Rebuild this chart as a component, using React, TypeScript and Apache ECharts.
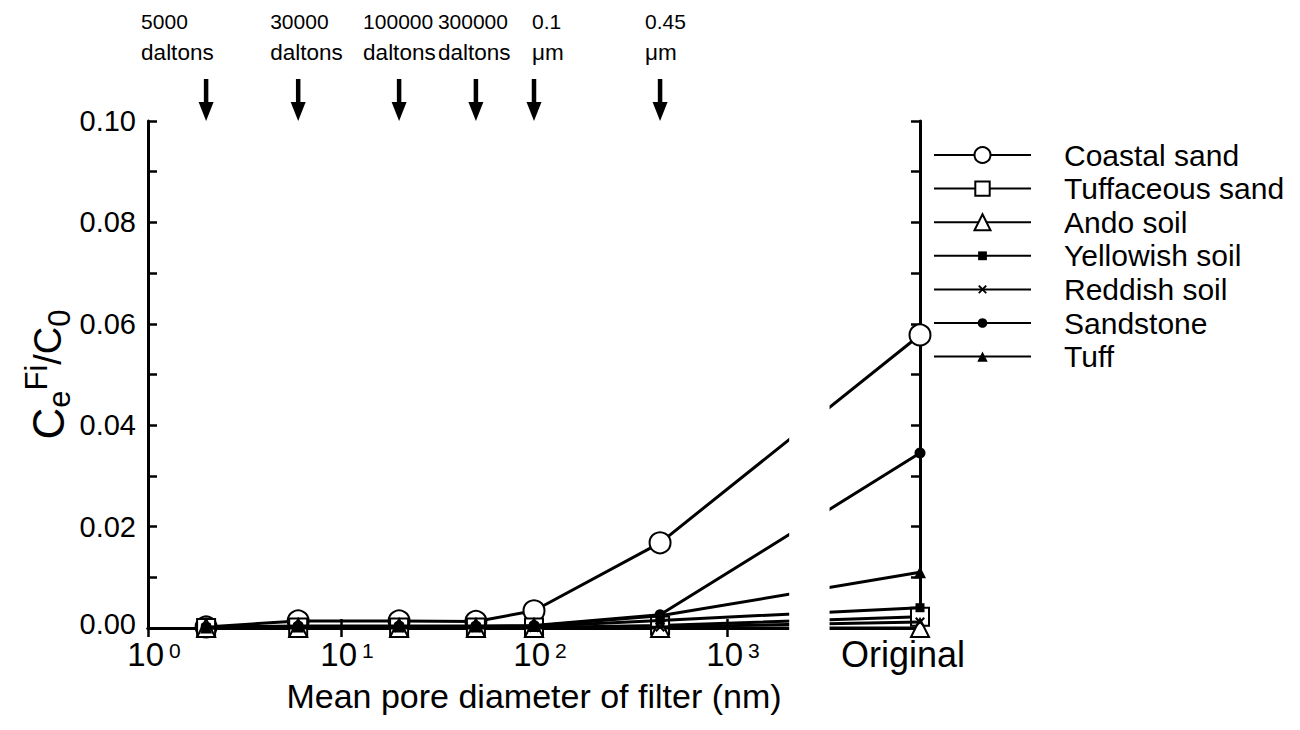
import React, { useEffect, useRef } from 'react';
import * as echarts from 'echarts';

// ---------- data ----------
// pore diameters (nm); the last slot (10^4) is the "Original" (unfiltered) sample
const poreDiameters = [2, 6, 20, 50, 100, 450, 10000];
const seriesNames = ['Coastal sand', 'Tuffaceous sand', 'Ando soil', 'Yellowish soil', 'Reddish soil', 'Sandstone', 'Tuff'];
const coastalSand = [0.0002, 0.0014, 0.0014, 0.0013, 0.0034, 0.0168, 0.0578];
const tuffaceousSand = [0.0, 0.0001, 0.0001, 0.0001, 0.0001, 0.0005, 0.0022];
const andoSoil = [0.0, 0.0, 0.0, 0.0, 0.0, 0.0, 0.0];
const yellowishSoil = [0.0001, 0.0002, 0.0002, 0.0002, 0.0003, 0.0015, 0.004];
const reddishSoil = [0.0, 0.0001, 0.0001, 0.0001, 0.0001, 0.0002, 0.0012];
const sandstone = [0.0002, 0.0004, 0.0004, 0.0004, 0.0005, 0.0026, 0.0345];
const tuff = [0.0001, 0.0003, 0.0003, 0.0003, 0.0004, 0.0024, 0.011];
const seriesValues = [coastalSand, tuffaceousSand, andoSoil, yellowishSoil, reddishSoil, sandstone, tuff];

const xTickValues = [1, 10, 100, 1000, 10000];
const xTickLabels = ['10|0', '10|1', '10|2', '10|3', 'Original'];
const yTickDecimals = 2;

// filter cut-offs marked with arrows above the plot
const filterDiameters = [2, 6, 20, 50, 100, 450];
const filterValues = ['5000', '30000', '100000', '300000', '0.1', '0.45'];
const filterUnits = ['daltons', 'daltons', 'daltons', 'daltons', '\u03bcm', '\u03bcm'];

// axis break (nm) between 10^3 and "Original"
const breakRangeNm = [2100, 3400];

const yTitle = '{m|C}{sb|e}{sp|Fi}{m2|/C}{sb|0}';
const xTitle = 'Mean pore diameter of filter (nm)';

// ---------- styles ----------
const FONT = '"Liberation Sans", Arial, Helvetica, sans-serif';
const symbols = [
  'emptyCircle',
  'emptyRect',
  'emptyTriangle',
  'rect',
  'path://M0,1.5 L1.5,0 L5,3.5 L8.5,0 L10,1.5 L6.5,5 L10,8.5 L8.5,10 L5,6.5 L1.5,10 L0,8.5 L3.5,5 Z',
  'circle',
  'triangle',
];
const symbolSizes = [21, 18, 18, 9, 10, 11, 12];
const legendItemHeights = [20, 18, 20, 11, 11, 12, 13];
const labelOffsets = [-65, -28, -36, -38, -2, -15];

export default function App() {
  const ref = useRef<HTMLDivElement>(null);

  useEffect(() => {
    if (!ref.current) return;
    const chart = echarts.init(ref.current, null, { renderer: 'svg' });

    const axisLineStyle = { color: '#000', width: 3 };
    const tickStyle = { color: '#000', width: 2.5 };

    const series = seriesNames.map((name, i) => ({
      type: 'line',
      name,
      data: poreDiameters.map((d, j) => [d, seriesValues[i][j]]),
      symbol: symbols[i],
      symbolSize: symbolSizes[i],
      showSymbol: true,
      showAllSymbol: true,
      clip: false,
      color: '#000',
      lineStyle: { color: '#000', width: 3 },
      itemStyle: symbols[i].startsWith('empty')
        ? { color: '#000', borderColor: '#000', borderWidth: 2.2 }
        : { color: '#000', borderWidth: 0 },
      emphasis: { disabled: true },
      z: 2 + i,
    }));

    // legend text (30px) is taller than the icons, so the item box top is the text top
    const legends = seriesNames.map((name, i) => ({
      data: [name],
      left: 928,
      top: 155 + i * 33.6 - 20,
      itemWidth: 97,
      itemHeight: legendItemHeights[i],
      itemGap: 0,
      selectedMode: false,
      textStyle: { fontSize: 30, color: '#000', fontFamily: FONT, padding: [0, 0, 0, 28] },
    }));

    const option: any = {
      animation: false,
      backgroundColor: '#fff',
      textStyle: { fontFamily: FONT, color: '#000' },
      grid: { left: 148, right: 380, top: 121, bottom: 102, containLabel: false },
      legend: legends,
      xAxis: [
        {
          type: 'log',
          logBase: 10,
          min: 1,
          max: 10000,
          position: 'bottom',
          name: xTitle,
          nameLocation: 'middle',
          nameGap: 51,
          nameTextStyle: { fontSize: 34, color: '#000', fontFamily: FONT },
          axisLine: { show: true, lineStyle: axisLineStyle },
          axisTick: { show: true, inside: true, length: 9, lineStyle: tickStyle },
          minorTick: { show: false },
          splitLine: { show: false },
          axisLabel: {
            show: true,
            showMinLabel: true,
            showMaxLabel: true,
            margin: 12,
            color: '#000',
            formatter: (v: number) => {
              const idx = xTickValues.findIndex((t) => Math.abs(Math.log10(t) - Math.log10(v)) < 1e-6);
              if (idx < 0) return '';
              const lab = xTickLabels[idx];
              if (lab.indexOf('|') < 0) return '{o|' + lab + '}';
              const [b, e] = lab.split('|');
              return '{b|' + b + '}{s|' + e + '}';
            },
            rich: {
              b: { fontSize: 33, lineHeight: 28, fontFamily: FONT, color: '#000', padding: [0, 0, 0, 12] },
              s: { fontSize: 21, lineHeight: 14, verticalAlign: 'top', fontFamily: FONT, color: '#000', padding: [0, 0, 0, 5] },
              o: { fontSize: 36, lineHeight: 28, fontFamily: FONT, color: '#000', padding: [0, 34, 0, 0] },
            },
          },
        },
        {
          type: 'log',
          logBase: 10,
          min: 1,
          max: 10000,
          position: 'top',
          axisLine: { show: true, lineStyle: axisLineStyle },
          axisTick: { show: true, inside: true, length: 9, lineStyle: tickStyle },
          minorTick: { show: false },
          splitLine: { show: false },
          axisLabel: { show: false },
        },
      ],
      yAxis: [
        {
          type: 'value',
          min: 0,
          max: 0.1,
          interval: 0.02,
          position: 'left',
          axisLine: { show: true, lineStyle: axisLineStyle },
          axisTick: { show: true, inside: true, length: 9, lineStyle: tickStyle },
          minorTick: { show: true, splitNumber: 2, length: 9, lineStyle: tickStyle },
          splitLine: { show: false },
          axisLabel: {
            margin: 12,
            fontSize: 29,
            lineHeight: 20,
            color: '#000',
            fontFamily: FONT,
            formatter: (v: number) => (v === 0 ? '{z|' + v.toFixed(yTickDecimals) + '}' : v.toFixed(yTickDecimals)),
            rich: {
              z: { fontSize: 29, lineHeight: 20, fontFamily: FONT, color: '#000', padding: [0, 0, 8, 0] },
            },
          },
        },
        {
          type: 'value',
          min: 0,
          max: 0.1,
          interval: 0.02,
          position: 'right',
          axisLine: { show: true, lineStyle: axisLineStyle },
          axisTick: { show: true, inside: true, length: 9, lineStyle: tickStyle },
          minorTick: { show: true, splitNumber: 2, length: 9, lineStyle: tickStyle },
          splitLine: { show: false },
          axisLabel: { show: false },
        },
      ],
      series,
    };

    chart.setOption(option);

    const px = (d: number) => chart.convertToPixel({ xAxisIndex: 0 }, d) as number;
    const py = (v: number) => chart.convertToPixel({ yAxisIndex: 0 }, v) as number;
    const top = py(0.1);
    const bottom = py(0);
    const bx0 = px(breakRangeNm[0]);
    const bx1 = px(breakRangeNm[1]);

    const graphics: any[] = [
      {
        type: 'rect',
        z: 100,
        shape: { x: bx0, y: top - 10, width: bx1 - bx0, height: bottom - top + 18 },
        style: { fill: '#fff' },
        silent: true,
      },
      {
        type: 'text',
        z: 100,
        x: 48,
        y: (top + bottom) / 2,
        rotation: Math.PI / 2,
        style: {
          text: yTitle,
          align: 'center',
          verticalAlign: 'middle',
          fill: '#000',
          rich: {
            m: { fontSize: 44, lineHeight: 54, fontFamily: FONT, fill: '#000' },
            m2: { fontSize: 38, lineHeight: 54, fontFamily: FONT, fill: '#000' },
            sb: { fontSize: 31, lineHeight: 30, verticalAlign: 'bottom', fontFamily: FONT, fill: '#000' },
            sp: { fontSize: 31, lineHeight: 30, verticalAlign: 'top', fontFamily: FONT, fill: '#000' },
          },
        },
      },
    ];

    filterDiameters.forEach((d, i) => {
      const x = px(d);
      graphics.push({
        type: 'line',
        z: 100,
        shape: { x1: x, y1: top - 42, x2: x, y2: top - 14 },
        style: { stroke: '#000', lineWidth: 4.5 },
      });
      graphics.push({
        type: 'polygon',
        z: 100,
        shape: { points: [[x - 7.5, top - 19], [x + 7.5, top - 19], [x, top]] },
        style: { fill: '#000' },
      });
      graphics.push({
        type: 'text',
        z: 100,
        x: x + labelOffsets[i],
        y: top - 84,
        style: {
          text: '{n|' + filterValues[i] + '}\n{u|' + filterUnits[i] + '}',
          align: 'left',
          verticalAlign: 'middle',
          fill: '#000',
          rich: {
            n: { fontSize: 21, lineHeight: 31, fontFamily: FONT, fill: '#000' },
            u: { fontSize: 22.5, lineHeight: 31, fontFamily: FONT, fill: '#000' },
          },
        },
      });
    });

    chart.setOption({ graphic: graphics });

    return () => chart.dispose();
  }, []);

  return (
    <div
      ref={ref}
      style={{ position: 'fixed', left: 0, top: 0, width: 1300, height: 730, background: '#fff' }}
    />
  );
}
